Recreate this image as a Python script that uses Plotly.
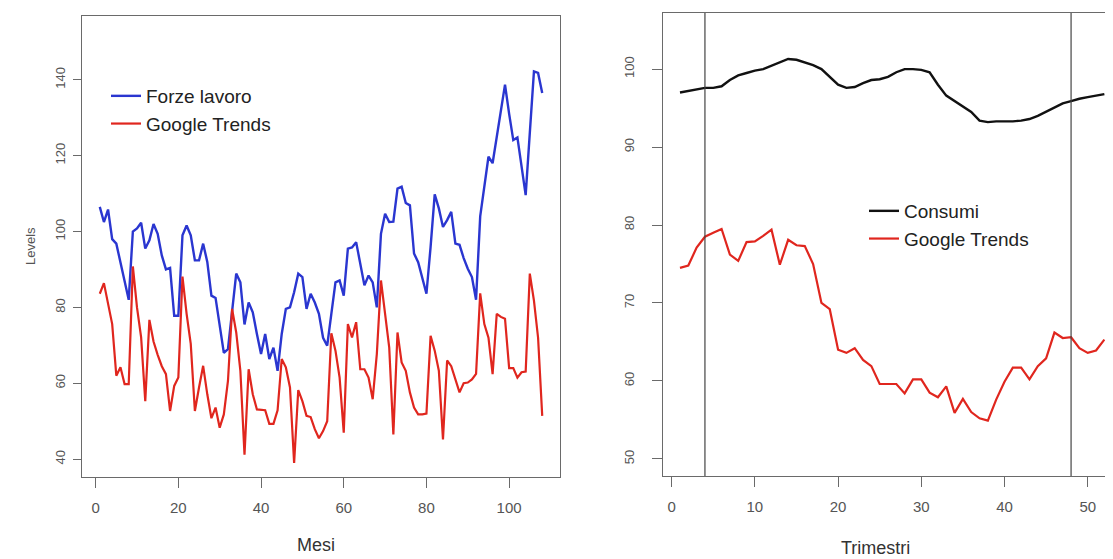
import plotly.graph_objects as go

# ---------------- data ----------------
mesi = list(range(1, 109))
forze_lavoro = [
    106.5, 102.5, 105.8, 98.0, 96.8, 92.0, 87.0, 82.0, 100.0, 100.8,
    102.3, 95.5, 97.7, 102.0, 99.4, 93.7, 90.0, 90.4, 77.8, 77.8,
    99.0, 101.6, 99.0, 92.4, 92.4, 96.8, 92.0, 83.1, 82.5, 75.0,
    68.0, 69.0, 79.0, 88.9, 86.6, 75.5, 81.3, 78.7, 73.0, 67.7,
    73.0, 66.4, 69.4, 63.3, 73.0, 79.6, 80.0, 84.0, 88.9, 88.0,
    79.6, 83.6, 81.3, 78.3, 72.0, 69.9, 78.3, 86.6, 87.1, 83.1,
    95.5, 95.8, 97.2, 91.9, 85.8, 88.4, 86.6, 80.0, 99.4, 104.7,
    102.5, 102.6, 111.3, 111.8, 107.5, 106.9, 94.2, 91.9, 88.0, 83.6,
    95.9, 109.8, 106.1, 101.2, 103.0, 105.2, 96.8, 96.5, 93.0, 90.2,
    88.0, 82.0, 104.0, 112.0, 119.7, 118.0, 125.0, 132.0, 138.7, 131.0,
    124.1, 124.8, 117.0, 109.6, 126.0, 142.2, 141.8, 136.5,
]
google_mesi = [
    83.6, 86.4, 81.0, 75.6, 62.0, 64.2, 59.8, 59.8, 90.8, 80.0,
    72.1, 55.3, 76.7, 71.0, 67.5, 64.5, 62.4, 52.7, 59.3, 61.5,
    88.1, 78.3, 70.4, 52.7, 58.9, 64.6, 57.1, 50.8, 53.6, 48.3,
    51.8, 60.6, 79.6, 73.4, 63.3, 41.2, 63.7, 57.1, 53.1, 52.9,
    52.9, 49.3, 49.3, 52.9, 66.4, 64.2, 58.9, 39.0, 58.2, 55.3,
    51.4, 51.1, 47.9, 45.5, 47.4, 50.0, 73.2, 68.6, 61.5, 47.0,
    75.6, 72.1, 76.1, 63.7, 63.7, 61.5, 55.8, 67.7, 87.1, 78.3,
    69.4, 46.5, 73.4, 65.5, 63.3, 57.6, 53.6, 51.8, 51.8, 52.0,
    72.5, 68.6, 63.3, 45.2, 66.0, 64.5, 61.0, 57.6, 60.0, 60.2,
    61.0, 62.5, 83.7, 75.6, 72.0, 62.4, 78.3, 77.5, 77.0, 64.0,
    64.0, 61.5, 62.9, 63.1, 88.9, 81.8, 72.0, 51.4,
]

trimestri = list(range(1, 53))
consumi = [
    97.0, 97.2, 97.4, 97.6, 97.6, 97.8, 98.6, 99.2, 99.5, 99.8,
    100.0, 100.4, 100.9, 101.3, 101.2, 100.9, 100.5, 100.0, 99.0, 98.0,
    97.6, 97.7, 98.2, 98.6, 98.7, 99.0, 99.6, 100.0, 100.0, 99.9,
    99.6, 98.0, 96.6, 95.9, 95.3, 94.5, 93.4, 93.2, 93.3, 93.3,
    93.3, 93.4, 93.6, 94.0, 94.5, 95.0, 95.6, 95.9, 96.2, 96.4,
    96.6, 96.8,
]
google_trimestri = [
    74.5, 74.8, 77.1, 78.5, 79.0, 79.5, 76.2, 75.4, 77.8, 77.9,
    78.6, 79.4, 74.9, 78.1, 77.4, 77.3, 75.0, 70.0, 69.2, 64.0,
    63.6, 64.2, 62.7, 61.9, 59.6, 59.6, 59.6, 58.4, 60.2, 60.2,
    58.5, 57.9, 59.3, 55.9, 57.7, 56.0, 55.2, 54.9, 57.6, 59.9,
    61.7, 61.7, 60.2, 61.9, 62.9, 66.2, 65.5, 65.6, 64.2, 63.6,
    63.9, 65.3,
]
break_points = [4, 48]

left_xticks = [0, 20, 40, 60, 80, 100]
left_yticks = [40, 60, 80, 100, 120, 140]
right_xticks = [0, 10, 20, 30, 40, 50]
right_yticks = [50, 60, 70, 80, 90, 100]

# ---------------- figure ----------------
W, H = 1113, 559
OFF = 8  # page body margin
BLUE = "#2a36d0"
RED = "#e0261e"
BLACK = "#111111"
AXC = "#6a6a6a"
TXC = "#555555"
FONT = "Liberation Sans, Arial, sans-serif"

fig = go.Figure()
fig.add_trace(go.Scatter(x=mesi, y=forze_lavoro, mode="lines", name="Forze lavoro",
                         line=dict(color=BLUE, width=2.4), xaxis="x", yaxis="y", legend="legend"))
fig.add_trace(go.Scatter(x=mesi, y=google_mesi, mode="lines", name="Google Trends",
                         line=dict(color=RED, width=2.2), xaxis="x", yaxis="y", legend="legend"))
fig.add_trace(go.Scatter(x=trimestri, y=consumi, mode="lines", name="Consumi",
                         line=dict(color=BLACK, width=2.4), xaxis="x2", yaxis="y2", legend="legend2"))
fig.add_trace(go.Scatter(x=trimestri, y=google_trimestri, mode="lines", name="Google Trends",
                         line=dict(color=RED, width=2.2), xaxis="x2", yaxis="y2", legend="legend2"))

for b in break_points:
    fig.add_shape(type="line", xref="x2", yref="y2 domain", x0=b, x1=b, y0=0, y1=1,
                  line=dict(color="#444444", width=1.2))

def px_x(p):
    return (p - OFF) / W

def px_y(p):
    return 1 - (p - OFF) / H

axis_common = dict(showline=True, linecolor=AXC, linewidth=1.3, ticks="outside",
                   tickcolor=AXC, tickwidth=1.3, showgrid=False, zeroline=False)
xfont = dict(family=FONT, size=15, color=TXC)
yfont = dict(family=FONT, size=13, color=TXC)

fig.update_layout(
    width=W, height=H,
    margin=dict(l=0, r=0, t=0, b=0),
    paper_bgcolor="white", plot_bgcolor="white",
    font=dict(family=FONT, color="#333333"),
    xaxis=dict(domain=[px_x(82), px_x(560)], range=[-3.3, 112.3], tickvals=left_xticks,
               mirror=True, ticklen=10, ticklabelstandoff=7, anchor="y", tickfont=xfont,
               **axis_common),
    yaxis=dict(domain=[px_y(477), px_y(16)], range=[35.3, 156.8], tickvals=left_yticks,
               mirror=True, ticklen=8, tickangle=-90, ticklabelstandoff=3, anchor="x",
               tickfont=yfont, **axis_common),
    xaxis2=dict(domain=[px_x(663), 1.0], range=[-1.04, 54.0], tickvals=right_xticks,
                mirror=True, ticklen=10, ticklabelstandoff=7, anchor="y2", tickfont=xfont,
                **axis_common),
    yaxis2=dict(domain=[px_y(476), px_y(13)], range=[47.8, 107.2], tickvals=right_yticks,
                mirror=False, ticklen=10, tickangle=-90, ticklabelstandoff=13, anchor="x2",
                tickfont=yfont, **axis_common),
    legend=dict(x=px_x(106), y=px_y(77), xanchor="left", yanchor="top",
                bgcolor="rgba(0,0,0,0)", font=dict(family=FONT, size=19, color="#222222"),
                tracegroupgap=0, itemwidth=30),
    legend2=dict(x=px_x(864), y=px_y(192), xanchor="left", yanchor="top",
                 bgcolor="rgba(0,0,0,0)", font=dict(family=FONT, size=19, color="#222222"),
                 tracegroupgap=0, itemwidth=30),
    showlegend=True,
)

fig.add_annotation(text="Levels", xref="paper", yref="paper", x=px_x(30), y=px_y(246),
                   xanchor="center", yanchor="middle",
                   showarrow=False, textangle=-90, font=dict(family=FONT, size=13, color=TXC))
fig.add_annotation(text="Mesi", xref="paper", yref="paper", x=px_x(316), y=px_y(545),
                   xanchor="center", yanchor="middle",
                   showarrow=False, font=dict(family=FONT, size=18, color="#333333"))
fig.add_annotation(text="Trimestri", xref="paper", yref="paper", x=px_x(875), y=px_y(548),
                   xanchor="center", yanchor="middle",
                   showarrow=False, font=dict(family=FONT, size=18, color="#333333"))

fig.write_html("out.html")
